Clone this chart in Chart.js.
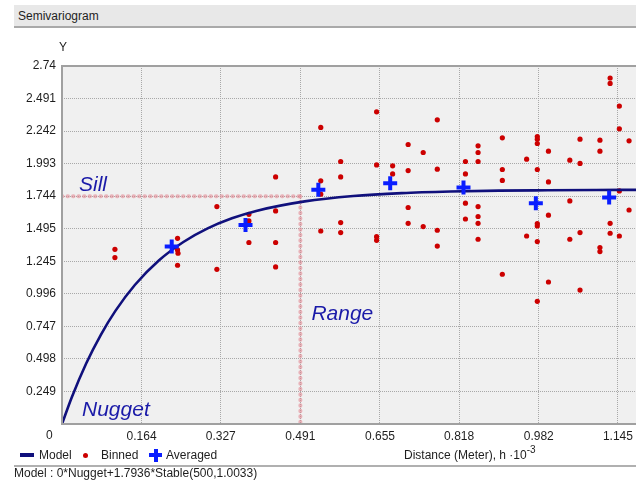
<!DOCTYPE html>
<html>
<head>
<meta charset="utf-8">
<script src="https://cdn.jsdelivr.net/npm/chart.js@4/dist/chart.umd.min.js"></script>
<style>
  html, body { margin: 0; padding: 0; background: #ffffff; }
  body { width: 636px; height: 480px; position: relative; overflow: hidden; font-family: "Liberation Sans", Arial, sans-serif; color: #1e1e1e; }
  #wrap { position: absolute; left: 0; top: 0; width: 636px; height: 480px; }
  .abs { position: absolute; white-space: nowrap; font-size: 12px; line-height: 14px; }
  #titlebar { position: absolute; left: 14px; top: 5px; width: 622px; height: 21px; background: #e8e8e8; border-bottom: 2px solid #a9a9a9; }
  #footer-line { position: absolute; left: 14px; top: 465px; width: 622px; height: 2px; background: #b0b0b0; }
</style>
</head>
<body>
<div id="titlebar"></div>
<div class="abs" style="left:18px; top:9px;">Semivariogram</div>
<div id="wrap"><canvas id="c" width="636" height="480"></canvas></div>
<div class="abs" style="left:59px; top:40px;">Y</div>
<div class="abs" style="left:46px; top:428px;">0</div>
<!-- legend -->
<div style="position:absolute; left:20px; top:453px; width:14px; height:4px; background:#10107c;"></div>
<div class="abs" style="left:39px; top:448px;">Model</div>
<div style="position:absolute; left:83px; top:453px; width:5px; height:5px; border-radius:50%; background:#cc0000;"></div>
<div class="abs" style="left:101px; top:448px;">Binned</div>
<div style="position:absolute; left:149px; top:453px; width:13px; height:4px; background:#0a1eff;"></div>
<div style="position:absolute; left:153.5px; top:448.5px; width:4px; height:13px; background:#0a1eff;"></div>
<div class="abs" style="left:166px; top:448px;">Averaged</div>
<div class="abs" style="left:404px; top:448px;">Distance (Meter), h &middot;10<sup style="font-size:10px; vertical-align:6px; line-height:0;">-3</sup></div>
<div id="footer-line"></div>
<div class="abs" style="left:14px; top:466px;">Model : 0*Nugget+1.7936*Stable(500,1.0033)</div>

<script>
// ---------- data ----------
const xTickValues = [0, 0.164, 0.327, 0.491, 0.655, 0.818, 0.982, 1.145];
const xTickLabels = ['0', '0.164', '0.327', '0.491', '0.655', '0.818', '0.982', '1.145'];
const yTickValues = [0, 0.249, 0.498, 0.747, 0.996, 1.245, 1.495, 1.744, 1.993, 2.242, 2.491, 2.74];
const yTickLabels = ['0', '0.249', '0.498', '0.747', '0.996', '1.245', '1.495', '1.744', '1.993', '2.242', '2.491', '2.74'];

const binnedH = [
  0.109, 0.109, 0.238, 0.238, 0.239, 0.238, 0.319, 0.319, 0.385, 0.385,
  0.385, 0.440, 0.440, 0.440, 0.440, 0.533, 0.533, 0.533, 0.533, 0.574,
  0.574, 0.574, 0.574, 0.648, 0.648, 0.648, 0.648, 0.681, 0.681, 0.713,
  0.713, 0.713, 0.713, 0.744, 0.744, 0.773, 0.773, 0.773, 0.773, 0.831,
  0.831, 0.831, 0.831, 0.857, 0.857, 0.857, 0.857, 0.857, 0.857, 0.857,
  0.907, 0.907, 0.907, 0.907, 0.957, 0.957, 0.979, 0.979, 0.979, 0.979,
  0.979, 0.979, 0.979, 0.979, 1.002, 1.002, 1.002, 1.002, 1.046, 1.046,
  1.046, 1.067, 1.067, 1.067, 1.067, 1.108, 1.108, 1.108, 1.108, 1.129,
  1.129, 1.129, 1.129, 1.148, 1.148, 1.148, 1.148, 1.168, 1.168
];
const binnedGamma = [
  1.337, 1.274, 1.421, 1.332, 1.307, 1.215, 1.664, 1.184, 1.605, 1.554,
  1.389, 1.891, 1.631, 1.389, 1.202, 2.270, 1.861, 1.759, 1.477, 2.009,
  1.891, 1.542, 1.465, 2.389, 1.983, 1.434, 1.406, 1.976, 1.914, 2.139,
  1.940, 1.657, 1.536, 2.078, 1.511, 2.328, 1.950, 1.483, 1.362, 2.009,
  1.914, 1.690, 1.569, 2.129, 2.078, 2.009, 1.664, 1.588, 1.536, 1.414,
  2.190, 1.948, 1.864, 1.146, 2.027, 1.439, 2.200, 2.180, 2.147, 1.948,
  1.534, 1.516, 1.396, 0.939, 2.088, 1.853, 1.598, 1.087, 2.019, 1.707,
  1.414, 2.180, 1.994, 1.465, 1.025, 2.172, 2.088, 1.350, 1.320, 2.648,
  2.607, 1.536, 1.460, 2.433, 2.259, 1.784, 1.439, 2.167, 1.638
];

const averagedH = [0.226, 0.378, 0.528, 0.676, 0.827, 0.976, 1.127];
const averagedGamma = [1.358, 1.523, 1.792, 1.843, 1.810, 1.690, 1.733];

const modelH = [0, 0.02, 0.05, 0.08, 0.11, 0.15, 0.20, 0.25, 0.30, 0.35, 0.40, 0.50, 0.60, 0.70, 0.80, 0.90, 1.00, 1.10, 1.1823];
const modelGamma = [0, 0.203, 0.465, 0.683, 0.866, 1.064, 1.253, 1.393, 1.497, 1.574, 1.631, 1.704, 1.745, 1.767, 1.779, 1.786, 1.789, 1.791, 1.792];

const sillValue = 1.744;
const rangeValue = 0.491;
const xMax = 1.1823;
const yMax = 2.74;

// ---------- build datasets ----------
const toPts = (xs, ys) => xs.map((x, i) => ({ x: x, y: ys[i] }));

const refStyle = {
  borderColor: 'rgba(226, 130, 140, 0.55)',
  borderWidth: 4,
  borderDash: [0.5, 5],
  borderCapStyle: 'round',
  pointRadius: 0,
  showLine: true,
  fill: false
};

const plotBg = {
  id: 'plotBg',
  beforeDraw(chart) {
    const { ctx, chartArea: a } = chart;
    ctx.save();
    ctx.fillStyle = '#f0f0f0';
    ctx.fillRect(a.left, a.top, a.right - a.left, a.bottom - a.top);
    ctx.restore();
  },
  afterDatasetsDraw(chart) {
    const { ctx, chartArea: a, scales } = chart;
    ctx.save();
    ctx.strokeStyle = '#a0a0a0';
    ctx.lineWidth = 2;
    ctx.beginPath();
    ctx.moveTo(a.right + 2, a.top);
    ctx.lineTo(a.left, a.top);
    ctx.lineTo(a.left, a.bottom);
    ctx.lineTo(a.right + 2, a.bottom);
    ctx.stroke();
    ctx.fillStyle = '#1a1aa8';
    ctx.font = 'italic 21px "Liberation Sans", Arial, sans-serif';
    ctx.textBaseline = 'alphabetic';
    ctx.textAlign = 'left';
    ctx.fillText('Sill', a.left + 17, scales.y.getPixelForValue(sillValue) - 5);
    ctx.fillText('Range', scales.x.getPixelForValue(rangeValue) + 11, scales.y.getPixelForValue(0.85) + 7);
    ctx.fillText('Nugget', a.left + 20, a.bottom - 8);
    ctx.restore();
  }
};

new Chart(document.getElementById('c'), {
  type: 'scatter',
  data: {
    datasets: [
      Object.assign({ label: 'Sill', data: [{ x: 0, y: sillValue }, { x: rangeValue, y: sillValue }], order: 5 }, refStyle),
      Object.assign({ label: 'Range', data: [{ x: rangeValue, y: sillValue }, { x: rangeValue, y: 0 }], order: 5 }, refStyle),
      {
        label: 'Binned',
        data: toPts(binnedH, binnedGamma),
        pointRadius: 2.6,
        pointBackgroundColor: '#cc0000',
        pointBorderWidth: 0,
        order: 3
      },
      {
        label: 'Model',
        data: toPts(modelH, modelGamma),
        showLine: true,
        borderColor: '#10107c',
        borderWidth: 2.6,
        pointRadius: 0,
        cubicInterpolationMode: 'monotone',
        fill: false,
        order: 2
      },
      {
        label: 'Averaged',
        data: toPts(averagedH, averagedGamma),
        pointStyle: 'cross',
        pointRadius: 7,
        pointBorderWidth: 4,
        pointBorderColor: '#0a1eff',
        order: 1
      }
    ]
  },
  options: {
    responsive: false,
    animation: false,
    devicePixelRatio: 1,
    layout: { autoPadding: false, padding: { top: 66, right: 0, bottom: 0, left: 0 } },
    plugins: { legend: { display: false }, tooltip: { enabled: false } },
    scales: {
      x: {
        type: 'linear',
        min: 0,
        max: xMax,
        afterBuildTicks: (s) => { s.ticks = xTickValues.map(v => ({ value: v })); },
        afterFit: (s) => { s.height = 56; s.paddingLeft = 0; s.paddingRight = 0; },
        ticks: {
          autoSkip: false,
          maxRotation: 0,
          padding: 5,
          color: '#1e1e1e',
          font: { family: '"Liberation Sans", Arial, sans-serif', size: 12 },
          callback: (v, i) => (i === 0 ? '' : xTickLabels[i])
        },
        grid: { color: '#a8a8a8', lineWidth: 1, drawTicks: false, tickLength: 0 },
        border: { display: false, dash: [1, 1] }
      },
      y: {
        type: 'linear',
        min: 0,
        max: yMax,
        afterBuildTicks: (s) => { s.ticks = yTickValues.map(v => ({ value: v })); },
        afterFit: (s) => { s.width = 62; s.paddingTop = 0; s.paddingBottom = 0; },
        ticks: {
          autoSkip: false,
          padding: 6,
          color: '#1e1e1e',
          font: { family: '"Liberation Sans", Arial, sans-serif', size: 12 },
          callback: (v, i) => (i === 0 ? '' : yTickLabels[i])
        },
        grid: { color: '#a8a8a8', lineWidth: 1, drawTicks: false, tickLength: 0 },
        border: { display: false, dash: [1, 1] }
      }
    }
  },
  plugins: [plotBg]
});
</script>
</body>
</html>
